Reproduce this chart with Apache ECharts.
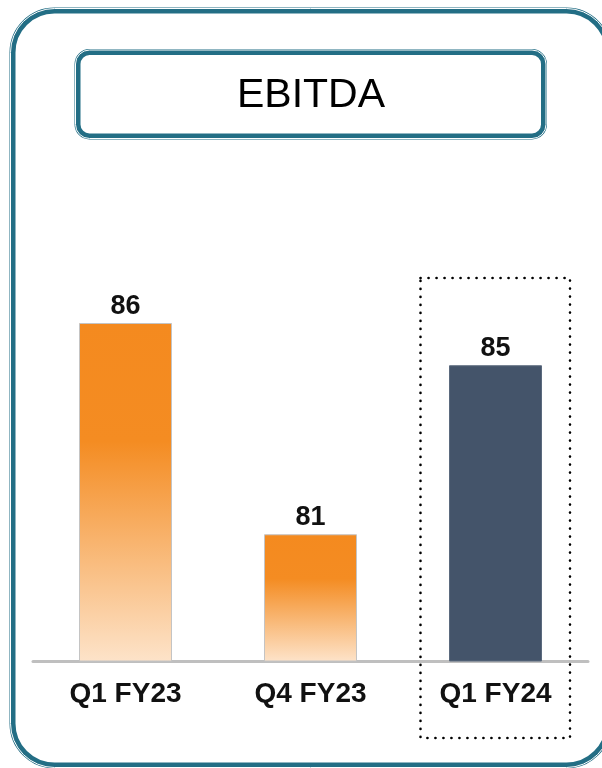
<!DOCTYPE html>
<html>
<head>
<meta charset="utf-8">
<script src="https://cdn.jsdelivr.net/npm/echarts@6/dist/echarts.min.js"></script>
<style>
html, body { margin: 0; padding: 0; background: #fff; }
#chart { width: 602px; height: 768px; }
</style>
</head>
<body>
<div id="chart"></div>
<script>
// data
var categories = ['Q1 FY23', 'Q4 FY23', 'Q1 FY24'];
var values = [86, 81, 85];
var title = 'EBITDA';

var teal = '#236E85';
var orangeFill = {
    type: 'linear', x: 0, y: 0, x2: 0, y2: 1,
    colorStops: [
        {offset: 0, color: '#F48A1F'},
        {offset: 0.35, color: '#F48C22'},
        {offset: 1, color: '#FDE3C9'}
    ]
};

var chart = echarts.init(document.getElementById('chart'));

var barData = values.map(function (v, i) {
    if (i === 2) {
        return {value: v, itemStyle: {color: '#44546A', borderColor: '#5B6A7E'}};
    }
    return {value: v, itemStyle: {color: orangeFill, borderColor: '#C4C4C4'}};
});

chart.setOption({
    animation: false,
    grid: {left: 33, right: 14, top: 238.5, bottom: 107},
    xAxis: {
        type: 'category',
        data: categories,
        axisTick: {show: false},
        axisLine: {lineStyle: {color: '#BFBFBF', width: 3}},
        axisLabel: {
            margin: 19,
            color: '#111',
            fontFamily: 'Liberation Sans',
            fontWeight: 'bold',
            fontSize: 28
        }
    },
    yAxis: {
        type: 'value',
        min: 78,
        max: 88,
        show: false
    },
    series: [{
        type: 'bar',
        data: barData,
        barWidth: 93,
        itemStyle: {borderWidth: 1},
        label: {
            show: true,
            position: 'top',
            distance: 3,
            color: '#111',
            fontFamily: 'Liberation Sans',
            fontWeight: 'bold',
            fontSize: 27
        }
    }],
    graphic: [
        // outer frame, double line
        {type: 'rect', z: 10, silent: true,
            shape: {x: 12.5, y: 10.5, width: 596, height: 755, r: 42},
            style: {fill: null, stroke: teal, lineWidth: 6}},
        {type: 'rect', z: 11, silent: true,
            shape: {x: 10.5, y: 8.5, width: 600, height: 759, r: 44},
            style: {fill: null, stroke: '#fff', lineWidth: 1}},
        // title box
        {type: 'rect', z: 10, silent: true,
            shape: {x: 77.5, y: 52, width: 466.5, height: 84.5, r: 12},
            style: {fill: null, stroke: teal, lineWidth: 6}},
        {type: 'rect', z: 11, silent: true,
            shape: {x: 75.5, y: 50, width: 470.5, height: 88.5, r: 14},
            style: {fill: null, stroke: '#fff', lineWidth: 1}},
        {type: 'text', z: 12, silent: true,
            style: {
                text: title, x: 311, y: 96, align: 'center', verticalAlign: 'middle',
                fill: '#000', font: '41px "Liberation Sans"'
            }},
        // dotted highlight box
        {type: 'rect', z: 12, silent: true,
            shape: {x: 420.5, y: 278, width: 149.5, height: 460},
            style: {fill: null, stroke: '#000', lineWidth: 2.6, lineDash: [0.1, 7.9], lineCap: 'round'}}
    ]
});
</script>
</body>
</html>
